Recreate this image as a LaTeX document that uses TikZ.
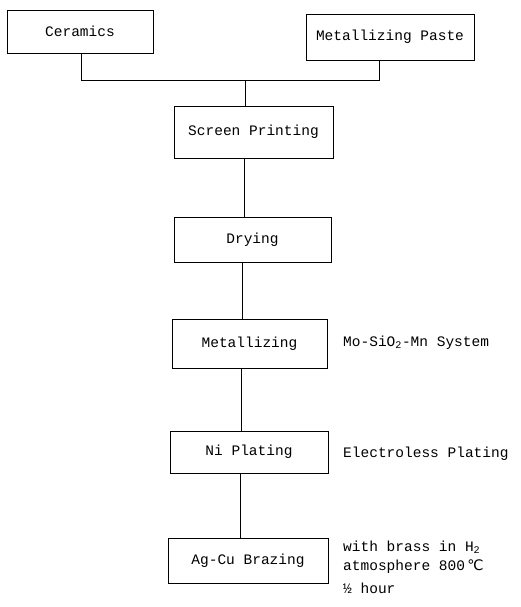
\documentclass[tikz,border=0pt]{standalone}
\usepackage{fontspec}
\setmonofont{Liberation Mono}
\newfontfamily\symfont{DejaVu Sans}
\begin{document}
\begin{tikzpicture}[x=1pt,y=-1pt,
  every node/.style={font=\ttfamily\fontsize{14.5}{16}\selectfont},
  stepbox/.style={draw, line width=0.8pt, inner sep=0pt},
  conn/.style={line width=0.8pt},
  note/.style={anchor=west, inner sep=0pt}]
\useasboundingbox (0,0) rectangle (521,607);
\node[stepbox, minimum width=146, minimum height=43] (cer) at (80,31.5) {Ceramics};
\node[stepbox, minimum width=168, minimum height=46] (paste) at (390,37) {Metallizing Paste};
\node[stepbox, minimum width=159, minimum height=52] (scr) at (253.5,132) {Screen Printing};
\node[stepbox, minimum width=157, minimum height=45] (dry) at (252.5,239.5) {Drying};
\node[stepbox, minimum width=155, minimum height=49] (met) at (249.5,343.5) {Metallizing};
\node[stepbox, minimum width=158, minimum height=42] (ni) at (249,452) {Ni Plating};
\node[stepbox, minimum width=160, minimum height=45] (br) at (248,560.5) {Ag-Cu Brazing};
\coordinate (j) at (245,80);
\draw[conn] (cer.south -| 81,0) |- (j);
\draw[conn] (paste.south -| 379,0) |- (j);
\draw[conn] (j) -- (scr.north -| j);
\draw[conn] (scr.south -| 244,0) -- (dry.north -| 244,0);
\draw[conn] (dry.south -| 242,0) -- (met.north -| 242,0);
\draw[conn] (met.south -| 241,0) -- (ni.north -| 241,0);
\draw[conn] (ni.south -| 240,0) -- (br.north -| 240,0);
\node[note] (n1) at (343,343) {Mo-SiO\textsubscript{2}-Mn System};
\node[note] (n2) at (343,454) {Electroless Plating};
\node[note] (n3) at (343,547) {with brass in H\textsubscript{2}};
\node[note] (n4) at (343,567) {atmosphere 800\,{\symfont ℃}};
\node[note] (n5) at (343,588) {½ hour};
\end{tikzpicture}
\end{document}
